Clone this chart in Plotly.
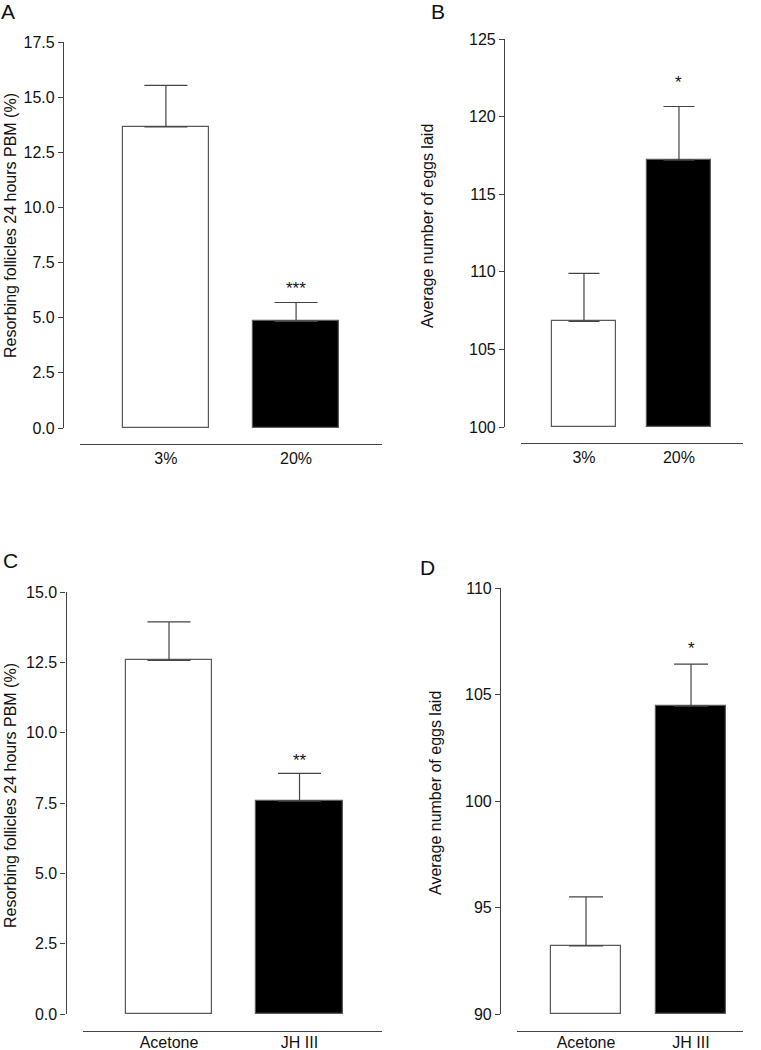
import plotly.graph_objects as go

W, H = 761, 1050
FONT = "Liberation Sans, Arial, sans-serif"
AX = "#444444"

# ---------------- data ----------------
cats_AB = ["3%", "20%"]
cats_CD = ["Acetone", "JH III"]

A_mean = [13.65, 4.83]
A_sem = [1.88, 0.86]
A_sig = ["", "***"]

B_mean = [106.8, 117.2]
B_sem = [3.1, 3.45]
B_sig = ["", "*"]

C_mean = [12.57, 7.57]
C_sem = [1.37, 0.98]
C_sig = ["", "**"]

D_mean = [93.2, 104.45]
D_sem = [2.3, 1.98]
D_sig = ["", "*"]

ylab_follicles = "Resorbing follicles 24 hours PBM (%)"
ylab_eggs = "Average number of eggs laid"
fills = ["white", "black"]


def fx(px):
    return px / W


def fy(py):
    return 1 - py / H


fig = go.Figure()

panels = [
    dict(cats=cats_AB, mean=A_mean, sem=A_sem, sig=A_sig, ylab=ylab_follicles, letter="A",
         yrange=[0, 17.5], dtick=2.5, fmt=".1f", ydom=(428, 42), ypos=63,
         xdom=(80, 382), xrange=[-0.66, 1.66], xline=444, cap=21.5, bw=0.66,
         sshift=14, tpos=(10, 226), lpos=(7.5, 11), lstand=0),
    dict(cats=cats_AB, mean=B_mean, sem=B_sem, sig=B_sig, ylab=ylab_eggs, letter="B",
         yrange=[100, 125], dtick=5, fmt="d", ydom=(427, 39), ypos=504,
         xdom=(521, 743), xrange=[-0.663, 1.674], xline=443, cap=15.5, bw=0.67,
         sshift=24.5, tpos=(427, 226), lpos=(438, 11.5), lstand=0),
    dict(cats=cats_CD, mean=C_mean, sem=C_sem, sig=C_sig, ylab=ylab_follicles, letter="C",
         yrange=[0, 15], dtick=2.5, fmt=".1f", ydom=(1014, 592), ypos=65.5,
         xdom=(83, 382), xrange=[-0.659, 1.632], xline=1031, cap=21.5, bw=0.665,
         sshift=13, tpos=(10, 796), lpos=(10.5, 560), lstand=-3),
    dict(cats=cats_CD, mean=D_mean, sem=D_sem, sig=D_sig, ylab=ylab_eggs, letter="D",
         yrange=[90, 110], dtick=5, fmt="d", ydom=(1014, 588), ypos=500,
         xdom=(517, 743), xrange=[-0.657, 1.495], xline=1031, cap=17, bw=0.667,
         sshift=16, tpos=(435, 793), lpos=(427.5, 567), lstand=-3),
]

annotations = []
for k, p in enumerate(panels, start=1):
    xa = "x" if k == 1 else f"x{k}"
    ya = "y" if k == 1 else f"y{k}"
    base = p["yrange"][0]
    xs = list(range(len(p["cats"])))
    fig.add_trace(go.Bar(
        x=xs, y=[m - base for m in p["mean"]], base=[base] * len(xs),
        width=p["bw"], xaxis=xa, yaxis=ya,
        marker=dict(color=fills, line=dict(color="#5a5a5a", width=1.2)),
        error_y=dict(type="data", array=p["sem"], arrayminus=[0] * len(xs),
                     symmetric=False, color=AX, thickness=1.2, width=p["cap"]),
        showlegend=False, hoverinfo="skip",
    ))
    fig.layout[f"xaxis{'' if k == 1 else k}"] = dict(
        domain=[fx(p["xdom"][0]), fx(p["xdom"][1])], range=p["xrange"],
        anchor="free", position=fy(p["xline"]), automargin=False,
        showline=True, linecolor=AX, linewidth=1.2, ticks="",
        ticklabelstandoff=p["lstand"],
        tickvals=xs, ticktext=p["cats"], showgrid=False, zeroline=False,
        tickfont=dict(family=FONT, size=16, color="#111111"), fixedrange=True,
    )
    fig.layout[f"yaxis{'' if k == 1 else k}"] = dict(
        domain=[fy(p["ydom"][0]), fy(p["ydom"][1])], range=p["yrange"],
        anchor="free", position=fx(p["ypos"]), automargin=False,
        showline=True, linecolor=AX, linewidth=1.2, ticks="outside", ticklen=5,
        tickcolor=AX, tickwidth=1.2, dtick=p["dtick"], tick0=p["yrange"][0],
        tickformat=p["fmt"], showgrid=False, zeroline=False,
        tickfont=dict(family=FONT, size=16, color="#111111"), fixedrange=True,
    )
    for i, s in enumerate(p["sig"]):
        if s:
            annotations.append(dict(
                x=i, y=p["mean"][i] + p["sem"][i], xref=xa, yref=ya,
                text=s, showarrow=False, yanchor="middle", yshift=p["sshift"],
                font=dict(family=FONT, size=17, color="#111111"),
            ))
    annotations.append(dict(
        x=fx(p["tpos"][0]), y=fy(p["tpos"][1]), xref="paper", yref="paper",
        text=p["ylab"], textangle=-90, showarrow=False,
        xanchor="center", yanchor="middle",
        font=dict(family=FONT, size=16, color="#111111"),
    ))
    annotations.append(dict(
        x=fx(p["lpos"][0]), y=fy(p["lpos"][1]), xref="paper", yref="paper",
        text=p["letter"], showarrow=False, xanchor="center", yanchor="middle",
        font=dict(family=FONT, size=21, color="#111111"),
    ))

fig.update_layout(
    template="none",
    width=W, height=H, margin=dict(l=0, r=0, t=0, b=0, pad=0),
    paper_bgcolor="white", plot_bgcolor="white",
    annotations=annotations, bargap=0,
)

fig.write_html(
    "out.html", config={"displayModeBar": False},
    post_script="document.body.style.margin='0';document.body.style.overflow='hidden';",
)
